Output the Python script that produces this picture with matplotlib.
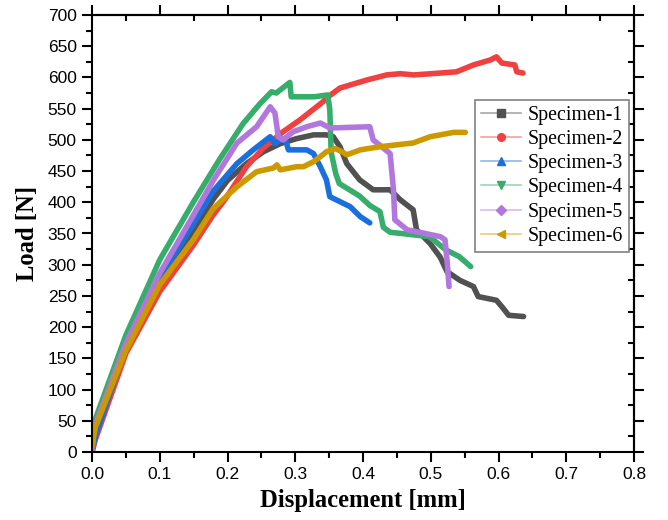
import matplotlib
matplotlib.use("Agg")
import matplotlib.pyplot as plt
from matplotlib.lines import Line2D
from matplotlib.ticker import MultipleLocator, FormatStrFormatter

# Data (displacement in mm, load in N)
x1 = [0, 0.005, 0.05, 0.1, 0.15, 0.179, 0.2, 0.228, 0.253, 0.278, 0.302, 0.327, 0.346,
      0.356, 0.366, 0.376, 0.395, 0.415, 0.44, 0.455, 0.474, 0.479, 0.499, 0.514,
      0.524, 0.543, 0.563, 0.570, 0.597, 0.607, 0.615, 0.637]
y1 = [0, 30, 166, 272, 355, 405, 435, 462, 481, 494, 502, 508, 508,
      505, 489, 462, 436, 420, 420, 404, 388, 356, 334, 312,
      289, 275, 265, 249, 243, 230, 219, 217]

x2 = [0, 0.005, 0.05, 0.1, 0.15, 0.179, 0.196, 0.228, 0.253, 0.282, 0.307, 0.341,
      0.346, 0.366, 0.406, 0.435, 0.455, 0.475, 0.514, 0.538, 0.563, 0.588, 0.597,
      0.605, 0.624, 0.627, 0.636]
y2 = [0, 20, 158, 257, 332, 380, 404, 457, 487, 513, 532, 561,
      567, 583, 596, 604, 606, 604, 607, 609, 620, 628, 633,
      623, 620, 609, 607]

x3 = [0, 0.005, 0.05, 0.1, 0.15, 0.179, 0.214, 0.238, 0.263, 0.270, 0.278, 0.285,
      0.290, 0.307, 0.317, 0.327, 0.337, 0.346, 0.351, 0.366, 0.381, 0.396, 0.410]
y3 = [0, 25, 169, 277, 366, 418, 462, 484, 505, 494, 500, 502,
      484, 484, 484, 478, 457, 436, 409, 401, 393, 377, 367]

x4 = [0, 0.0044, 0.05, 0.1, 0.15, 0.189, 0.223, 0.248, 0.265, 0.272,
      0.292, 0.294, 0.328, 0.348, 0.351, 0.353, 0.36, 0.365, 0.38, 0.395, 0.41, 0.425,
      0.43, 0.44, 0.473, 0.498, 0.522, 0.542, 0.559]
y4 = [0, 51, 187, 308, 401, 470, 526, 558, 577, 575,
      592, 569, 569, 572, 548, 480, 445, 430, 420, 410, 395, 385,
      360, 352, 348, 345, 324, 313, 297]

x5 = [0, 0.002, 0.05, 0.1, 0.15, 0.179, 0.214, 0.243, 0.263, 0.270, 0.275, 0.282,
      0.297, 0.317, 0.337, 0.351, 0.38, 0.41, 0.415, 0.44, 0.445, 0.447, 0.465, 0.514,
      0.521, 0.524, 0.527]
y5 = [0, 35, 174, 286, 380, 435, 495, 521, 553, 543, 505, 500,
      513, 521, 527, 519, 520, 521, 500, 478, 420, 372, 356, 345,
      340, 308, 265]

x6 = [0, 0.005, 0.05, 0.1, 0.15, 0.179, 0.214, 0.243, 0.268, 0.273, 0.278, 0.302,
      0.312, 0.327, 0.337, 0.346, 0.359, 0.369, 0.376, 0.396, 0.425, 0.474, 0.499,
      0.534, 0.551]
y6 = [10, 40, 163, 268, 341, 390, 425, 449, 455, 460, 452, 457,
      457, 465, 473, 481, 486, 481, 476, 484, 489, 495, 505,
      512, 512]

labels = ["Specimen-1", "Specimen-2", "Specimen-3", "Specimen-4", "Specimen-5", "Specimen-6"]
colors = ["#515151", "#F14040", "#1A6FDF", "#37AD6B", "#B177DE", "#CC9900"]
markers = ["s", "o", "^", "v", "D", "<"]
xs = [x1, x2, x3, x4, x5, x6]
ys = [y1, y2, y3, y4, y5, y6]

fig = plt.figure(figsize=(6.68, 5.2), dpi=100)
ax = fig.add_axes([92 / 668, 1 - 452 / 520, (634 - 92) / 668, (452 - 15) / 520])

for x, y, c in zip(xs, ys, colors):
    ax.plot(x, y, color=c, lw=4, solid_capstyle="round", solid_joinstyle="round")

ax.set_xlim(0, 0.8)
ax.set_ylim(0, 700)
ax.xaxis.set_major_locator(MultipleLocator(0.1))
ax.xaxis.set_minor_locator(MultipleLocator(0.05))
ax.yaxis.set_major_locator(MultipleLocator(50))
ax.yaxis.set_minor_locator(MultipleLocator(25))
ax.xaxis.set_major_formatter(FormatStrFormatter("%.1f"))

for s in ax.spines.values():
    s.set_linewidth(1.5)
ax.tick_params(which="major", direction="out", length=7, width=1.5,
               labelsize=12.5, pad=4)
ax.tick_params(which="minor", direction="out", length=4, width=1.5)
for lab in ax.get_xticklabels() + ax.get_yticklabels():
    lab.set_fontfamily("Liberation Sans")

# mirrored top / right axes: major ticks out, minor ticks in
top = ax.secondary_xaxis("top")
right = ax.secondary_yaxis("right")
for sec, loc_major, loc_minor in [(top, 0.1, 0.05), (right, 50, 25)]:
    ax_ = sec.xaxis if sec is top else sec.yaxis
    ax_.set_major_locator(MultipleLocator(loc_major))
    ax_.set_minor_locator(MultipleLocator(loc_minor))
    sec.tick_params(which="major", direction="out", length=7, width=1.5,
                    labelleft=False, labelright=False, labeltop=False, labelbottom=False)
    sec.tick_params(which="minor", direction="in", length=4, width=1.5)
    for s in sec.spines.values():
        s.set_linewidth(1.5)

ax.set_xlabel("Displacement [mm]", fontfamily="Liberation Serif", fontweight="bold",
              fontsize=17.7, labelpad=5)
ax.set_ylabel("Load [N]", fontfamily="Liberation Serif", fontweight="bold",
              fontsize=17.7, labelpad=6)

handles = [Line2D([0], [0], color=c, lw=1.2, alpha=0.5) for c in colors]
handles = [(h, Line2D([0], [0], color=c, lw=0, marker=m, markersize=5.5))
           for h, c, m in zip(handles, colors, markers)]
leg = ax.legend(handles, labels, loc="upper left",
                bbox_to_anchor=(475 / 668, 1 - 100 / 520), bbox_transform=fig.transFigure,
                borderaxespad=0, fancybox=False, framealpha=1, edgecolor="#808080",
                prop={"family": "Liberation Serif", "size": 14.3},
                handlelength=2.0, handletextpad=0.35, labelspacing=0.26,
                borderpad=0.3)
leg.get_frame().set_linewidth(1.2)

fig.savefig("out.png", dpi=100)
